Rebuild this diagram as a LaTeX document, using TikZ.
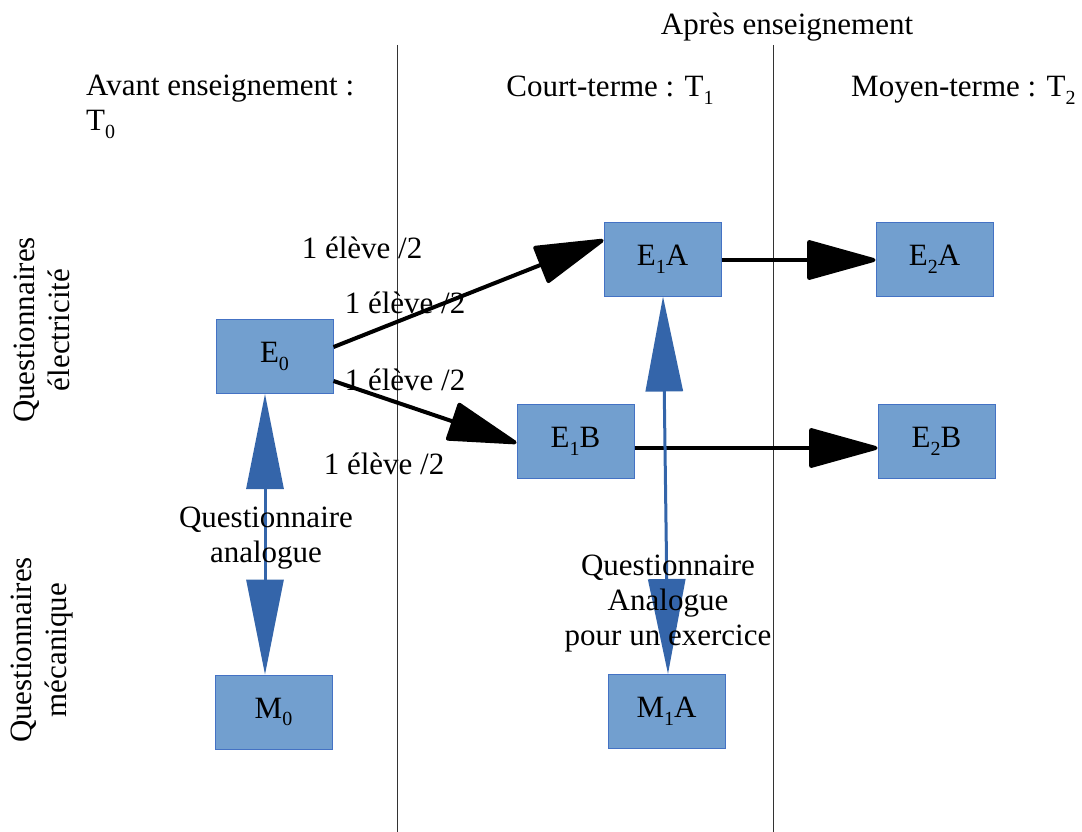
\documentclass[tikz,border=0pt]{standalone}
\usepackage{fontspec}
\setmainfont{Liberation Serif}
\usetikzlibrary{arrows.meta}
\newcommand{\sbs}[1]{\raisebox{-0.55ex}{\fontsize{20}{20}\selectfont #1}}
\definecolor{boxfill}{RGB}{114,159,207}
\definecolor{boxline}{RGB}{68,114,196}
\definecolor{bluearrow}{RGB}{52,101,170}
\tikzset{
  box/.style={draw=boxline, line width=1pt, fill=boxfill, minimum width=117pt, minimum height=74pt, inner sep=0pt, font=\fontsize{31}{35}\selectfont},
  txt/.style={font=\fontsize{31}{35}\selectfont, inner sep=0pt},
  sep/.style={draw=black!80, line width=1pt},
  blk/.style={draw=black, line width=4pt, -{Triangle[length=74pt,width=40pt,round]}},
  blu/.style={draw=bluearrow, fill=bluearrow, line width=3pt, {Triangle[length=95pt,width=37pt]}-{Triangle[length=95pt,width=37pt]}}
}
\begin{document}
\begin{tikzpicture}[x=1pt,y=-1pt]
\useasboundingbox (0,0) rectangle (1082,832);
% separators
\coordinate (s1t) at (397,45); \coordinate (s1b) at (397,832);
\coordinate (s2t) at (773,45); \coordinate (s2b) at (773,832);
\draw[sep] (s1t) -- (s1b);
\draw[sep] (s2t) -- (s2b);
% headers
\node[txt, anchor=base] (apres) at (787,35) {Après enseignement};
\node[txt, anchor=base west] (avant) at (86,96) {Avant enseignement :};
\node[txt, anchor=base west] (t0) at (86,131) {T\sbs{0}};
\node[txt, anchor=base] (court) at (610,97) {Court-terme : T\sbs{1}};
\node[txt, anchor=base west] (moyen) at (851,97) {Moyen-terme : T\sbs{2}};
% side labels
\node[txt, rotate=90, align=center] (qe) at (42,330) {Questionnaires\\électricité};
\node[txt, rotate=90, align=center] (qm) at (42,650) {Questionnaires\\mécanique};
% boxes
\node[box] (E0) at (274.5,356.5) {E\sbs{0}};
\node[box] (E1A) at (662.5,259) {E\sbs{1}A};
\node[box] (E2A) at (934.5,259) {E\sbs{2}A};
\node[box] (E1B) at (575.5,441) {E\sbs{1}B};
\node[box] (E2B) at (936.5,441.5) {E\sbs{2}B};
\node[box] (M0) at (273.5,712) {M\sbs{0}};
\node[box] (M1A) at (666.5,711.5) {M\sbs{1}A};
% black arrows
\draw[blk] ([yshift=9.5pt]E0.east) -- ([yshift=19pt]E1A.west);
\draw[blk] ([yshift=-24.5pt]E0.east) -- ([yshift=-2pt]E1B.west);
\draw[blk] ([yshift=-1pt]E1A.east) -- ([yshift=-1pt]E2A.west);
\draw[blk] ([yshift=-7pt]E1B.east) -- ([yshift=-6.5pt]E2B.west);
% blue arrows
\draw[blu] ([xshift=-9.5pt]E0.south) -- ([xshift=-8.5pt]M0.north);
\draw[blu] ([xshift=0.5pt]E1A.south) -- ([xshift=1.5pt]M1A.north);
% labels
\node[txt, anchor=base] (l1) at (362,258) {1 élève /2};
\node[txt, anchor=base] (l2) at (405,313) {1 élève /2};
\node[txt, anchor=base] (l3) at (405,390) {1 élève /2};
\node[txt, anchor=base] (l4) at (384,474) {1 élève /2};
\node[txt, align=center] (qa) at (266,538) {Questionnaire\\analogue};
\node[txt, align=center] (qb) at (668,604) {Questionnaire\\Analogue\\pour un exercice};
\end{tikzpicture}
\end{document}
